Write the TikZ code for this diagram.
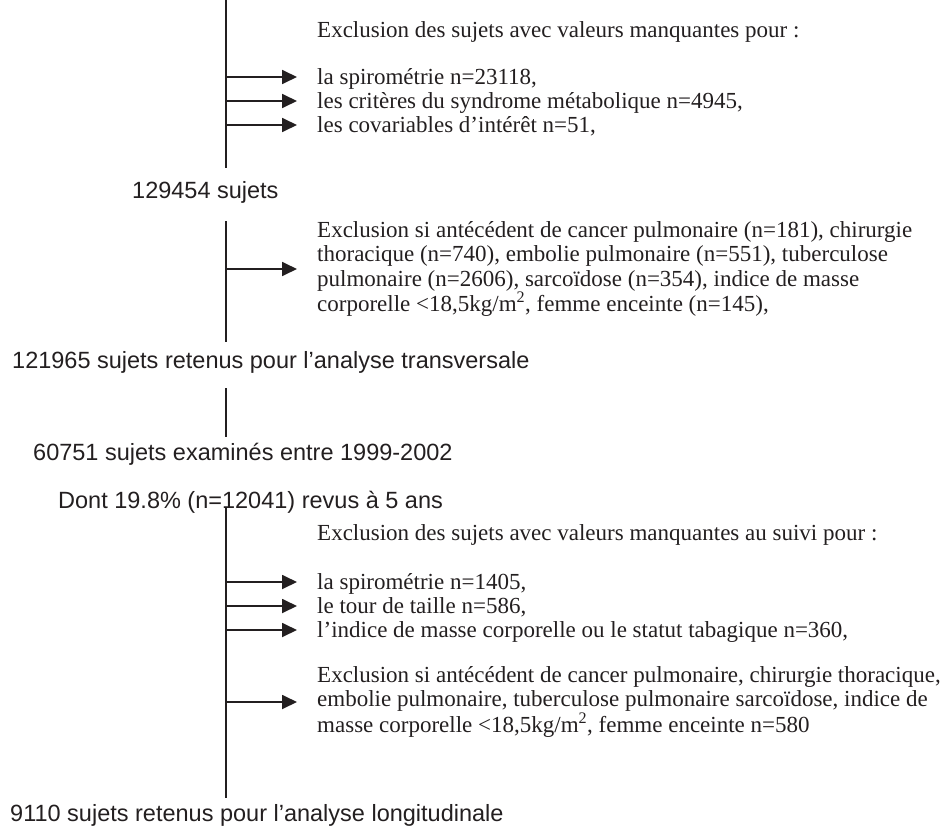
\documentclass[tikz,border=0pt]{standalone}
\usepackage{fontspec}
\setmainfont{Liberation Serif}
\newfontfamily\arialf{Liberation Sans}
\usetikzlibrary{arrows.meta}
\definecolor{ink}{HTML}{231F20}
\begin{document}
\begin{tikzpicture}[x=1pt,y=-1pt,
  serif/.style={anchor=base west, inner sep=0pt, text=ink, font=\fontsize{23}{24.5}\selectfont},
  para/.style={anchor=west, inner sep=0pt, text=ink, align=left, font=\fontsize{23}{24.5}\selectfont},
  sans/.style={anchor=base west, inner sep=0pt, text=ink, font=\arialf\fontsize{23.5}{27}\selectfont},
  vline/.style={draw=ink, line width=2pt},
  arr/.style={draw=ink, line width=1.8pt, -{Triangle[length=15pt,width=14pt]}, shorten >=20pt}]
\useasboundingbox (0,0) rectangle (948,827);

% vertical line segments
\coordinate (s1a) at (226,0);   \coordinate (s1b) at (226,168);
\coordinate (s2a) at (226,221); \coordinate (s2b) at (226,342);
\coordinate (s3a) at (226,388); \coordinate (s3b) at (226,437);
\coordinate (s4a) at (226,508); \coordinate (s4b) at (226,798);
\draw[vline] (s1a) -- (s1b);
\draw[vline] (s2a) -- (s2b);
\draw[vline] (s3a) -- (s3b);
\draw[vline] (s4a) -- (s4b);

% group 1
\node[serif] (h1) at (317,37) {Exclusion des sujets avec valeurs manquantes pour :};
\node[serif] (i1) at (317,84) {la spirométrie n=23118,};
\node[serif] (i2) at (317,108) {les critères du syndrome métabolique n=4945,};
\node[serif] (i3) at (317,132) {les covariables d’intérêt n=51,};
\coordinate (o1) at (226,77); \coordinate (o2) at (226,101); \coordinate (o3) at (226,125);
\draw[arr] (o1) -- (o1 -| i1.west);
\draw[arr] (o2) -- (o2 -| i2.west);
\draw[arr] (o3) -- (o3 -| i3.west);

\node[sans] (n1) at (132,198.5) {129454 sujets};

% group 2
\node[para] (p1) at (317,269) {Exclusion si antécédent de cancer pulmonaire (n=181), chirurgie\\
thoracique (n=740), embolie pulmonaire (n=551), tuberculose\\
pulmonaire (n=2606), sarcoïdose (n=354), indice de masse\\
corporelle <18,5kg/m\textsuperscript{2}, femme enceinte (n=145),};
\coordinate (o4) at (226,269);
\draw[arr] (o4) -- (p1.west);

\node[sans] (n2) at (12,368.5) {121965 sujets retenus pour l’analyse transversale};
\node[sans] (n3) at (33,460.5) {60751 sujets examinés entre 1999-2002};
\node[sans] (n4) at (58,508.5) {Dont 19.8\% (n=12041) revus à 5 ans};

% group 3
\node[serif] (h2) at (317,540) {Exclusion des sujets avec valeurs manquantes au suivi pour :};
\node[serif] (j1) at (317,589) {la spirométrie n=1405,};
\node[serif] (j2) at (317,613) {le tour de taille n=586,};
\node[serif] (j3) at (317,637) {l’indice de masse corporelle ou le statut tabagique n=360,};
\coordinate (o5) at (226,582); \coordinate (o6) at (226,606); \coordinate (o7) at (226,630);
\draw[arr] (o5) -- (o5 -| j1.west);
\draw[arr] (o6) -- (o6 -| j2.west);
\draw[arr] (o7) -- (o7 -| j3.west);

\node[para] (p2) at (317,702) {Exclusion si antécédent de cancer pulmonaire, chirurgie thoracique,\\
embolie pulmonaire, tuberculose pulmonaire sarcoïdose, indice de\\
masse corporelle <18,5kg/m\textsuperscript{2}, femme enceinte n=580};
\coordinate (o8) at (226,702);
\draw[arr] (o8) -- (p2.west);

\node[sans] (n5) at (10,821.5) {9110 sujets retenus pour l’analyse longitudinale};
\end{tikzpicture}
\end{document}
